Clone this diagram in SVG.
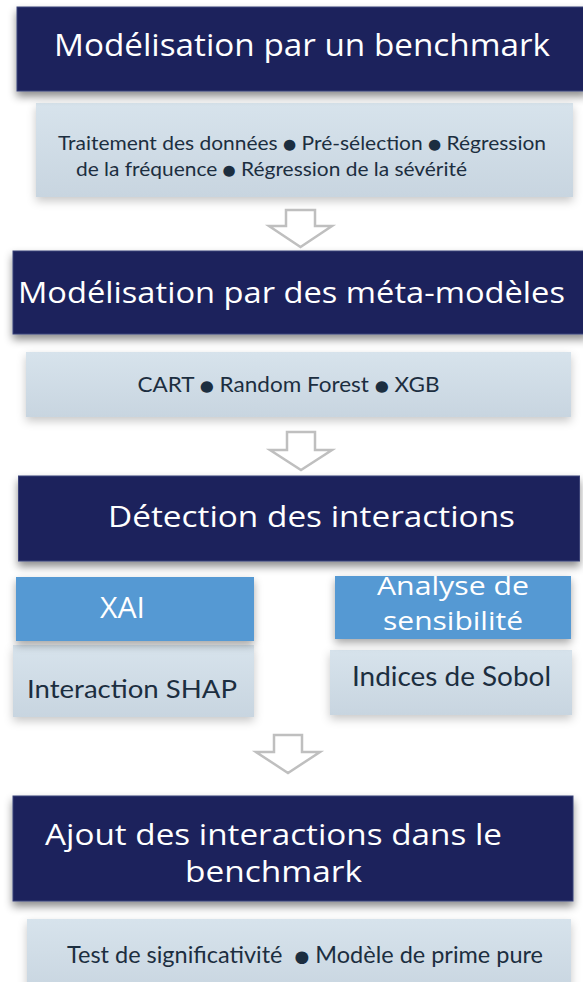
<svg xmlns="http://www.w3.org/2000/svg" width="583" height="982" viewBox="0 0 583 982">
  <defs>
    <linearGradient id="lightGrad" x1="0" y1="0" x2="0" y2="1">
      <stop offset="0" stop-color="#d7e3ec"/>
      <stop offset="1" stop-color="#c8d5e0"/>
    </linearGradient>
    <filter id="darkShadow" x="-5%" y="-20%" width="110%" height="150%">
      <feDropShadow dx="0" dy="5" stdDeviation="4" flood-color="#000" flood-opacity="0.45"/>
    </filter>
    <filter id="softShadow" x="-8%" y="-20%" width="116%" height="150%">
      <feDropShadow dx="0" dy="4" stdDeviation="5" flood-color="#000" flood-opacity="0.22"/>
    </filter>
    <filter id="blueShadow" x="-8%" y="-20%" width="116%" height="150%">
      <feDropShadow dx="0" dy="4" stdDeviation="4" flood-color="#000" flood-opacity="0.35"/>
    </filter>
  </defs>
  <style>
    .dark { fill: #1c235c; stroke: #3a4278; stroke-width: 1; filter: url(#darkShadow); }
    .light { fill: url(#lightGrad); filter: url(#softShadow); }
    .blue { fill: #5499d3; filter: url(#blueShadow); }
    .title { font-family: "Open Sans", "Noto Sans", "DejaVu Sans", sans-serif; fill: #ffffff; }
    .body { font-family: Lato, "Liberation Sans", "DejaVu Sans", sans-serif; fill: #1c2e40; }
    .bul { font-family: "DejaVu Sans", sans-serif; font-size: 0.72em; }
    .arrow { fill: #ffffff; stroke: #bfbfbf; stroke-width: 2.5; stroke-linejoin: miter; }
  </style>
  <rect width="583" height="982" fill="#ffffff"/>

  <g id="benchmark-details">
    <rect class="light" x="36" y="103" width="537" height="94"/>
    <text class="body" x="58" y="150" font-size="20" textLength="488" lengthAdjust="spacingAndGlyphs">Traitement des données <tspan class="bul" dy="-1.5">●</tspan><tspan dy="1.5"> Pré-sélection </tspan><tspan class="bul" dy="-1.5">●</tspan><tspan dy="1.5"> Régression</tspan></text>
    <text class="body" x="76" y="176" font-size="20" textLength="391" lengthAdjust="spacingAndGlyphs">de la fréquence <tspan class="bul" dy="-1.5">●</tspan><tspan dy="1.5"> Régression de la sévérité</tspan></text>
  </g>
  <g id="benchmark">
    <rect class="dark" x="17" y="7" width="570" height="84"/>
    <text class="title" x="54" y="56" font-size="31" textLength="496" lengthAdjust="spacingAndGlyphs">Modélisation par un benchmark</text>
  </g>

  <g id="meta-details">
    <rect class="light" x="26" y="352" width="545" height="65"/>
    <text class="body" x="137.5" y="392" font-size="21" textLength="302" lengthAdjust="spacingAndGlyphs">CART <tspan class="bul" dy="-1.5">●</tspan><tspan dy="1.5"> Random Forest </tspan><tspan class="bul" dy="-1.5">●</tspan><tspan dy="1.5"> XGB</tspan></text>
  </g>
  <g id="meta-models">
    <rect class="dark" x="13" y="251" width="575" height="83"/>
    <text class="title" x="18" y="303" font-size="30" textLength="547" lengthAdjust="spacingAndGlyphs">Modélisation par des méta-modèles</text>
  </g>

  <g id="shap">
    <rect class="light" x="13" y="645" width="241" height="72"/>
    <text class="body" x="27" y="698" font-size="25" textLength="210" lengthAdjust="spacingAndGlyphs">Interaction SHAP</text>
  </g>
  <g id="sobol">
    <rect class="light" x="330" y="650" width="242" height="65"/>
    <text class="body" x="352" y="686" font-size="26" textLength="199" lengthAdjust="spacingAndGlyphs">Indices de Sobol</text>
  </g>
  <g id="xai">
    <rect class="blue" x="16" y="577" width="238" height="64"/>
    <text class="title" x="100" y="618" font-size="29" textLength="45" lengthAdjust="spacingAndGlyphs">XAI</text>
  </g>
  <g id="sensibilite">
    <rect class="blue" x="335" y="576" width="236" height="63"/>
    <text class="title" x="377" y="595" font-size="25" textLength="152" lengthAdjust="spacingAndGlyphs">Analyse de</text>
    <text class="title" x="383" y="630" font-size="25" textLength="140" lengthAdjust="spacingAndGlyphs">sensibilité</text>
  </g>
  <g id="detection">
    <rect class="dark" x="18.5" y="476" width="561" height="85"/>
    <text class="title" x="108" y="527" font-size="30" textLength="407" lengthAdjust="spacingAndGlyphs">Détection des interactions</text>
  </g>

  <g id="ajout-details">
    <rect class="light" x="27" y="919" width="544" height="75"/>
    <text class="body" x="67" y="963" font-size="23" textLength="476" lengthAdjust="spacingAndGlyphs">Test de significativité <tspan class="bul" dx="6" dy="-1.5">●</tspan><tspan dy="1.5"> Modèle de prime pure</tspan></text>
  </g>
  <g id="ajout">
    <rect class="dark" x="13" y="796" width="560" height="105"/>
    <text class="title" x="45" y="845" font-size="29" textLength="457" lengthAdjust="spacingAndGlyphs">Ajout des interactions dans le</text>
    <text class="title" x="185" y="882" font-size="29" textLength="177" lengthAdjust="spacingAndGlyphs">benchmark</text>
  </g>

  <g id="connectors">
    <polygon class="arrow" points="286,210 315,210 315,226 332,226 300.5,247 269,226 286,226"/>
    <polygon class="arrow" points="287,432 315,432 315,450 332,450 301,470 270,450 287,450"/>
    <polygon class="arrow" points="274,735 302,735 302,752 320,752 288,773 256,752 274,752"/>
  </g>
</svg>
